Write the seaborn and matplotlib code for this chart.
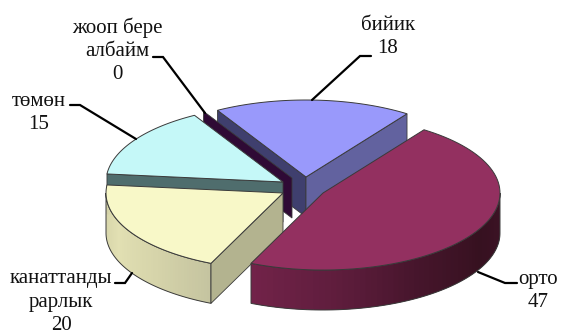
import numpy as np
import matplotlib
matplotlib.use("Agg")
import matplotlib.pyplot as plt
from matplotlib.patches import Polygon
from matplotlib.colors import to_rgb
import seaborn as sns

# data, clockwise from the start angle
categories = ["бийик", "орто", "канаттанды\nрарлык", "төмөн", "жооп бере\nалбайм"]
values = [18, 47, 20, 15, 0]

# styling
top_palette = sns.color_palette(["#9999fb", "#933060", "#f8f8c8", "#c5f8f8", "#660066"])
START = 120.0
RX, RY, DEPTH = 177, 77, 40
centers = [(306, 177), (323, 193), (283, 193), (283, 182), (292, 178)]
EDGE = "#3a3a3a"

sns.set_theme(style="white")
plt.rcParams["font.family"] = ["Liberation Serif", "DejaVu Serif"]
fig = plt.figure(figsize=(5.62, 3.34), dpi=100, facecolor="white")
ax = fig.add_axes([0, 0, 1, 1])
ax.set_xlim(0, 562)
ax.set_ylim(334, 0)
ax.axis("off")

# slice angles from the values
total = sum(values)
bounds = START - np.cumsum([0] + values) / total * 360.0
spans = {c: (bounds[i], bounds[i + 1], centers[i]) for i, c in enumerate(categories)}


def rim(center, a0, a1, n=80):
    t = np.radians(np.linspace(a0, a1, n))
    return np.column_stack([center[0] + RX * np.cos(t), center[1] - RY * np.sin(t)])


def top(name, color, z):
    a0, a1, c = spans[name]
    pts = np.vstack([[c], rim(c, a0, a1)])
    ax.add_patch(Polygon(pts, closed=True, fc=color, ec=EDGE, lw=0.7, zorder=z))


def cut_wall(name, angle, color, z):
    _, _, c = spans[name]
    p = rim(c, angle, angle, 1)[0]
    pts = [c, p, (p[0], p[1] + DEPTH), (c[0], c[1] + DEPTH)]
    ax.add_patch(Polygon(pts, closed=True, fc=color, ec=EDGE, lw=0.6, zorder=z))


def outer_wall(name, a0, a1, stops, z, n=60):
    _, _, c = spans[name]
    ang = np.linspace(a0, a1, n + 1)
    stops = np.array([to_rgb(s) for s in stops])
    fr = np.linspace(0, 1, len(stops))
    whole = rim(c, a0, a1)
    outline = np.vstack([whole, whole[::-1] + [0, DEPTH]])
    # overlapping slices, so that no seams show between them
    for i in range(n):
        r = rim(c, ang[i], ang[min(i + 2, n)], 5)
        poly = np.vstack([r, r[::-1] + [0, DEPTH]])
        f = (i + .5) / n
        col = [np.interp(f, fr, stops[:, k]) for k in range(3)]
        ax.add_patch(Polygon(poly, closed=True, fc=col, ec="none", lw=0, zorder=z + i * 1e-4))
    ax.add_patch(Polygon(outline, closed=True, fill=False, ec=EDGE, lw=0.7, zorder=z + 0.05))


hi, mid, sat, low, zero = categories

# back to front
cut_wall(hi, bounds[0], "#3f3f6e", 1)
cut_wall(hi, bounds[1], "#62629f", 1.1)
top(hi, top_palette[0], 1.2)

cut_wall(zero, bounds[4], "#2f0a35", 2)

cut_wall(low, bounds[3], "#4f6d6d", 3)
top(low, top_palette[3], 3.2)

outer_wall(sat, -180, bounds[2], ["#d3d1a6", "#e2e0b3", "#d6d4aa", "#c5c4a0"], 4)
cut_wall(sat, bounds[2], "#b3b38f", 4.1)
top(sat, top_palette[2], 4.2)

outer_wall(mid, bounds[2], 0, ["#722349", "#5f1d3d", "#45152b", "#361120", "#3d1226"], 5)
top(mid, top_palette[1], 5.2)

# leader lines
leaders = {
    zero: ([153, 163, 205], [57, 57, 113]),
    hi: ([371, 360, 312], [56, 56, 100]),
    low: ([70, 80, 136], [105, 105, 139]),
    mid: ([517, 505, 478], [283, 283, 272]),
    sat: ([115, 125, 132], [283, 283, 273]),
}
for name, (xs, ys) in leaders.items():
    ax.plot(xs, ys, color="black", lw=1.6, solid_joinstyle="miter", zorder=6)

# labels
label_pos = {
    zero: (117, 51),
    hi: (388, 37),
    low: (39, 113),
    mid: (538, 291),
    sat: (61, 302),
}
for name, v in zip(categories, values):
    x, y = label_pos[name]
    ax.text(x, y, f"{name}\n{v}", ha="center", va="center", fontsize=15,
            color="#111111", linespacing=1.3, zorder=7)

fig.savefig("out.png", dpi=100, facecolor="white")
